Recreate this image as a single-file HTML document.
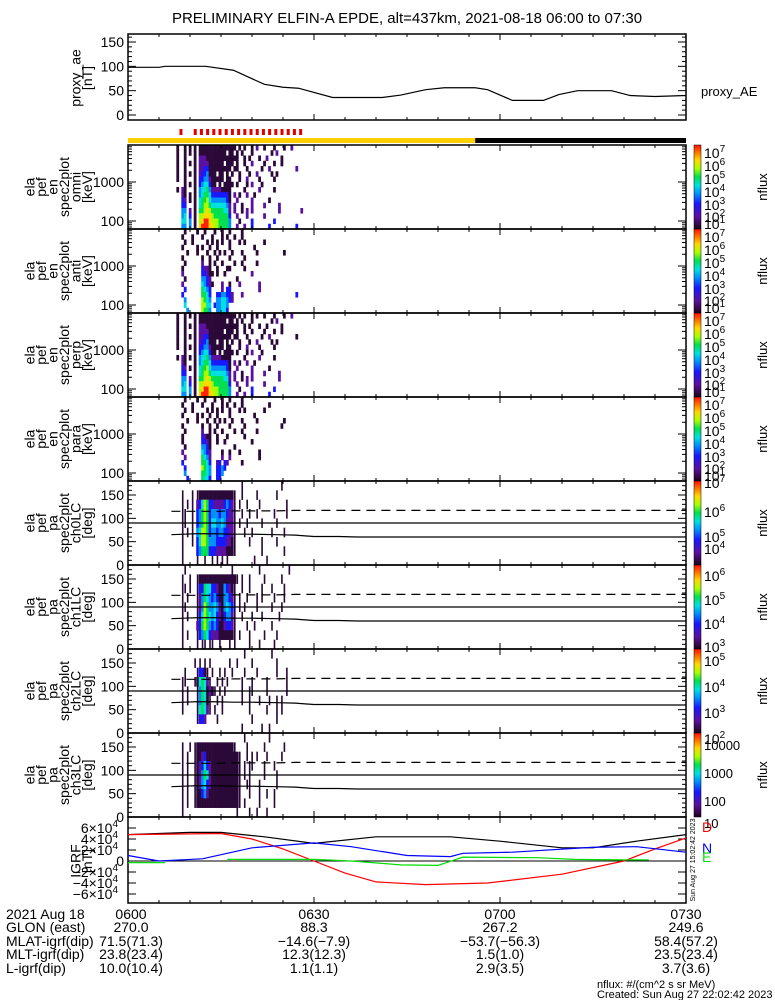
<!DOCTYPE html>
<html><head><meta charset="utf-8">
<style>
html,body{margin:0;padding:0;background:#fff;}
svg{display:block;font-family:"Liberation Sans",sans-serif;}
text{fill:#000;}
</style></head>
<body>
<svg id="chart" width="775" height="1000" viewBox="0 0 775 1000" xmlns="http://www.w3.org/2000/svg">
<text x="407" y="23" font-size="15" text-anchor="middle">PRELIMINARY ELFIN-A EPDE, alt=437km, 2021-08-18 06:00 to 07:30</text>
<g id="g"></g>
</svg>
<script>
// ---- data ----
const aeTimes = [0,5,6,12.5,17,22,25,27.5,33,41,44,48,51,56,58,62,67,69.5,72.5,78,81,85,90];
const aeValues = [98,98,100,100,92,63,57,55,36,36,41,52,56,56,52,30,30,42,50,50,40,38,40];
const aeTicks = [0,50,100,150];

const igrfBlackT = [0,10,15,22,30,40,52,60,70,75,82,90];
const igrfBlackV = [4.8,5.2,5.2,4.4,3.2,4.4,4.4,3.6,2.4,2.4,3.6,4.8];
const igrfRedT = [0,15,20,25,30,35,40,48,58,70,80,85,90];
const igrfRedV = [4.8,5.0,4.0,2.2,0,-2.2,-3.8,-4.3,-4.0,-2.4,0,2.2,4.2];
const igrfBlueT = [0,5,12,20,30,36,45,52,54,62,75,82,90];
const igrfBlueV = [1.0,0,0.4,2.4,3.3,2.6,1.0,0.8,1.4,1.6,2.5,2.6,1.6];
const igrfGreenT = [0,6,6.1,16,30,36,44,50,54,66,72,80,84];
const igrfGreenV = [-0.3,-0.3,null,0.3,0.3,0,-0.7,-0.8,0.7,0.6,0.3,0.2,0.2];
const igrfTicks = [-6,-4,-2,0,2,4,6];

const specT0 = 7.8, specDt = 0.4;
const omniRows = [
"1..1.1.1.111111111111111.1.1..1.2..1...1...1..2.....",
"1..1.1.1.11111111111.11.1.1...1.......1.2...........",
"1..1...1.2221111111111111..1.1...1..2.....1.........",
"1..1.1.1.2222111111.111.1..1..2....1...1..1.........",
"1..1...1.2233111111111.11...1.....1..2..........2...",
"1..1.1.1.2334111.11.1.1..1...1..2.....1.1..........",
"1..1...1.3344211111.11...1..2....1.....1...........",
"...1.1.1.3455311.1.1111.1...1.2...1................",
"1.21...1.4556422221111.....1.....2.....1...........",
"..21.1.1.4566533333331.2.1..2..1...................",
"..32.1.1.5667544444431..2.....2......1.............",
"..33...1.5677655555542.2..1...2....2.....2.........",
"..44.2.1.6678766666552.2..1.2.2..........2........2",
"..45.3.1.7788876666663..2...2......2...............",
"..55.4.1.7899877766664...1....3........3...........",
"..44.4.1.8999887766664..2..2..3......3..........3.."];
const antiRows = [
"...1....1..1...1..1..1....1........................",
"..1...1...1...1...1.1..1..1........................",
"...1..1.....1.1.1.1..1...1.1.......1...............",
"..1.....1.1..1..1....1.........1...................",
"....1...1...1..1.1.1..1...1.....1..........1.......",
"..1.......1..1..1....1.....1.......................",
"...1......2..1.1..1....1..1.....1..................",
"..1.......3221..1...11.....1.......................",
"..2.......33211.1..1..........2....................",
"...1......4432..........1..........................",
"..2.......54321...2..1...2.......2.................",
"...3......6543....2.33...........2.................",
"..3.......6653..3344332...2.....................3..",
"...4......7654..4455432............................",
"...5......7755.344554..............................",
"....4.....7664..44553.............................."];
const perpRows = [
"1..1.1.1.111111111111111.1.1..1.1..1...1...1..2.....",
"1..1...1.11111111111.11.1.1...1.......1.2...........",
"1..1.1.1.2221111111111111..1.1...1..1.....1.........",
"1..1...1.2222111111.111.1..1..1....1...1..1.........",
"1..1.1.1.2233111111111.11...1.....1..2..........1...",
"1..1...1.2334111.11.1.1..1...1..2.....1.1..........",
"1..1.1.1.3344211111.11...1..2....1.....1...........",
"...1...1.3455311.1.1111.1...1.2...1................",
"1.21.1.1.4556422221111.....1.....2.....1...........",
"..21...1.4566533333331.2.1..2..1...................",
"..32.1.1.5667544444431..2.....2......1.............",
"..33...1.5677655555542.2..1...2....2.....2.........",
"..44.2.1.6678766666552.2..1.2.2..........2.........",
"..45.3.1.7788876666663..2...2......2...............",
"..55.4.1.7899877766664...1....3........3...........",
"..44.4.1.8999887766664..2..2..3......3............."];
const paraRows = [
"...1....1..1...1..1..1....1........................",
"..1...1...1...1...1.1..1..1..........1.............",
"...1..1.....1.1.1.1..1...1.1.......1...............",
"..1.....1.1..1..1....1.........1...................",
"....1...1...1..1.1.1..1...1.....1..........1.......",
"..1.......1..1..1....1.....1..............1........",
"...1......2..1.1..1....1..1.....1..................",
"..1.......3211..1...1......1.......................",
"..1.......3321..1..1..........1....................",
"...1......4431.........1...........................",
"..2.......5432....1..1...1.......1.................",
"...2......6542....2..2...........1.................",
"..3.......6653..23.32.....1........................",
"...3......7654..3343...............................",
"...4......6654..334................................",
"....3.....6553..33................................."];
const pa0Rows = [
"..........................1...............1.........",
"..1...1.1111111111111111..1.....1.......1...........",
"..1.1.1.2357633222234321.1..1....1..........1.......",
"..11..1.3467634443443221..1..1..1......1....1.......",
"..11..1.3467635544542221.1..1.....1.....1...........",
"..1.1.1.4577634434433221...1..1.......1....1........",
"..1...1.3577644433332211.....1....1.....1...........",
"..1.....3466633322221111..........1........1........",
"..1.....1..1..1.1.1.1..........1....1..............."];
const pa1Rows = [
"...1..................1..........1...........1......",
"..1..1..11111111111111111.1..1.....1......1.........",
"..11.1..1336553321143211..1..1....1...1....1........",
"..1.1...1246543431144321.1..1...1.1....1...1........",
"..11....1247644542145431.1.1....1.....1...1.........",
"..1.1...1357654532134421..1...1...1......1..........",
"..1.....2367643431123321....1..1......1.............",
"..1.1...1346532221111111.1...1.....1....1...........",
"..1.....1.11.11..1...1.1.....1...1.....1............"];
const pa2Rows = [
"...........................1..........1.............",
".......1.1.1.1.......1..1.....1.........1...........",
"...1....13311.1..1.1..1....1....1.......1...1.......",
"..11...1156521..1.1.1.....1...1.....1.......1.......",
"..1.1...14651211.1.1......1..11.....1.......1.......",
"..1.1...146511..1.1.......1..1...1...1..1.1.........",
"..1.....156521.1..1..........1......1...1.1.........",
"........1332....1.............1.........1...........",
"..........................1.......1..1..............."];
const pa3Rows = [
"...........................1.........1..............",
"..1..1.11111111111111111....1......1.......1........",
"..1.1..1112311111111111111..1.1.1...1.....1.........",
"..1.1..1123532111111111111.1.11....1...1............",
"..1.1..1124652111111111111.1.1.....1....1...........",
"..1.1..1124532111111111111..11...1......1...........",
"..1.1..1113421111111111111...1...1..1..1............",
"..1.1..1111111111111111111.1.....1.....1............",
"..1.....................1....1..1...1..............."];
const lossConeT = [7,9,11,14,17,20,24,27,28,30,33,34,37,40,45,52,60,70,80,90];
const lossConeV = [65,66,67,67,66,66,65,64,63,61,61,61,60,60,60,60,60,60,60,60];
const antiConeV = [115,115,115,115,116,116,116,117,117,117,117,117,117,117,117,117,117,117,117,117];
const redMarkT = [8.3,10.6,11.6,12.6,13.6,14.6,15.6,16.6,17.6,18.6,19.6,20.6,21.6,22.6,23.6,24.6,25.6,26.6,27.6];
const timeLabels = ["0600","0630","0700","0730"];
const glon = ["270.0","88.3","267.2","249.6"];
const mlat = ["71.5(71.3)","-14.6(-7.9)","-53.7(-56.3)","58.4(57.2)"];
const mlt = ["23.8(23.4)","12.3(12.3)","1.5(1.0)","23.5(23.4)"];
const lval = ["10.0(10.4)","1.1(1.1)","2.9(3.5)","3.7(3.6)"];

// ---- helpers ----
const NS="http://www.w3.org/2000/svg";
const G=document.getElementById('g');
const X0=128, X1=686;
function tx(t){return X0+(X1-X0)*t/90;}
function mk(tag,attrs,parent){const e=document.createElementNS(NS,tag);for(const k in attrs)e.setAttribute(k,attrs[k]);(parent||G).appendChild(e);return e;}
function txt(s,x,y,size,anchor,parent){const e=mk('text',{x:x,y:y,'font-size':size,'text-anchor':anchor||'start'},parent);e.textContent=s;return e;}
const cmap=['#ffffff','#2a0838','#5a10a0','#1818ff','#0090ff','#00e0e0','#00e050','#a8ff00','#ffd800','#ff2000'];

function xTicks(top,bot){
  for(let m=0;m<=90;m+=5){
    const big=(m%30===0);const L=big?6:3;
    const x=tx(m);
    mk('line',{x1:x,y1:bot,x2:x,y2:bot-L,stroke:'#000'});
    mk('line',{x1:x,y1:top,x2:x,y2:top+L,stroke:'#000'});
  }
}
function frame(top,bot,name){
  const r=mk('rect',{x:X0,y:top,width:X1-X0,height:bot-top,fill:'none',stroke:'#000','stroke-width':1.5});
  
  
  xTicks(top,bot);
}
function ytitle(lines,cy,name){
  const g=mk('g',{});
  
  
  const n=lines.length;
  lines.forEach((s,i)=>{
    const x=92-(n-1-i)*11.5;
    const t=txt(s,0,0,14,'middle',g);
    t.setAttribute('transform','translate('+x+','+cy+') rotate(-90)');
  });
}
function colorbar(top,bot,labels,name){
  const id='cb'+top;
  const defs=mk('defs',{});
  const lg=mk('linearGradient',{id:id,x1:0,y1:1,x2:0,y2:0},defs);
  [['0','#1a0020'],['0.06','#3a0850'],['0.15','#5a10a0'],['0.3','#1818ff'],['0.42','#0090ff'],['0.52','#00e0e0'],['0.62','#00e050'],['0.72','#a8ff00'],['0.82','#ffd800'],['0.9','#ff8000'],['1','#ff1000']].forEach(s=>mk('stop',{offset:s[0],'stop-color':s[1]},lg));
  const r=mk('rect',{x:694,y:top,width:7,height:bot-top,fill:'url(#'+id+')',stroke:'#000','stroke-width':0.5});
  
  
  labels.forEach(l=>{
    if(l[2]){const t=txt('10',704,l[1],14);const s=mk('tspan',{dy:-6,'font-size':10},t);s.textContent=l[0];}
    else txt(l[0],704,l[1],13);
  });
  const t=txt('nflux',0,0,13,'middle');
  t.setAttribute('transform','translate(767,'+((top+bot)/2)+') rotate(-90)');
}
function spec(top,rows,name){
  const h=84, nr=rows.length, rh=h/nr, cw=tx(specDt)-tx(0);
  const g=mk('g',{});
  
  
  rows.forEach((row,r)=>{
    for(let c=0;c<row.length;c++){
      const ch=row[c]; if(ch==='.')continue;
      mk('rect',{x:tx(specT0+c*specDt),y:top+r*rh,width:cw+0.3,height:rh+0.3,fill:cmap[+ch]},g);
    }
  });
}
function paSpec(top,rows,name){
  const h=84, nr=rows.length, rh=h/nr, cw=tx(specDt)-tx(0);
  const g=mk('g',{});
  
  
  rows.forEach((row,r)=>{
    for(let c=0;c<row.length;c++){
      const ch=row[c]; if(ch==='.')continue;
      const prev=row[c-1]||'.', next=row[c+1]||'.';
      const wide=(+ch>1)||(prev!=='.'&&next!=='.');
      mk('rect',{x:tx(specT0+c*specDt)+(wide?0:0.6),y:top+r*rh,width:wide?cw+0.3:1.6,height:rh+0.3,fill:cmap[+ch]},g);
    }
  });
}
function logAxis(top){
  const yE=e=>top+76-(Math.log10(e)-2)*39;
  for(let d=1;d<=3;d++){for(let k=1;k<=9;k++){const e=k*Math.pow(10,d);const y=yE(e);if(y<top||y>top+84)continue;
    const L=(k===1)?8:4;
    mk('line',{x1:X0,y1:y,x2:X0+L,y2:y,stroke:'#000'});mk('line',{x1:X1,y1:y,x2:X1-L,y2:y,stroke:'#000'});}}
  txt('1000',124,yE(1000)+5,14,'end');txt('100',124,yE(100)+5,14,'end');
}
function paAxis(top){
  const yA=a=>top+84-a*84/180;
  for(let a=0;a<=180;a+=10){const L=(a%50===0)?8:4;const y=yA(a);
    mk('line',{x1:X0,y1:y,x2:X0+L,y2:y,stroke:'#000'});mk('line',{x1:X1,y1:y,x2:X1-L,y2:y,stroke:'#000'});}
  [0,50,100,150].forEach(a=>txt(String(a),124,yA(a)+5,14,'end'));
  mk('line',{x1:X0,y1:yA(90),x2:X1,y2:yA(90),stroke:'#000','stroke-width':1.2});
  let d1='',d2='';
  lossConeT.forEach((t,i)=>{d1+=(i?'L':'M')+tx(t)+','+yA(lossConeV[i]);d2+=(i?'L':'M')+tx(t)+','+yA(antiConeV[i]);});
  const p1=mk('path',{d:d1,fill:'none',stroke:'#000','stroke-width':1.2});
  
  
  const p2=mk('path',{d:d2,fill:'none',stroke:'#000','stroke-width':1.2,'stroke-dasharray':'9,6'});
  
  
}

// ---- proxy AE panel ----
(function(){
  const top=34,bot=120; const yv=v=>115-v*0.4867;
  frame(top,bot,'proxy-ae-panel');
  aeTicks.forEach(v=>txt(String(v),124,yv(v)+5,14,'end'));
  for(let v=0;v<=160;v+=10){const L=(v%50===0)?8:4;const y=yv(v);if(y<top)continue;
    mk('line',{x1:X0,y1:y,x2:X0+L,y2:y,stroke:'#000'});mk('line',{x1:X1,y1:y,x2:X1-L,y2:y,stroke:'#000'});}
  let d='';aeTimes.forEach((t,i)=>{d+=(i?'L':'M')+tx(t)+','+yv(aeValues[i]);});
  const p=mk('path',{d:d,fill:'none',stroke:'#000','stroke-width':1.2});
  
  
  ytitle(['proxy_ae','[nT]'],78,'proxy-ae-axis-title');
  txt('proxy_AE',701,96,13);
})();

// ---- state bar ----
(function(){
  const y=mk('rect',{x:X0,y:138,width:tx(56)-X0,height:5,fill:'#ffd000'});
  
  
  const b=mk('rect',{x:tx(56),y:138,width:X1-tx(56),height:5,fill:'#000'});
  
  
  redMarkT.forEach(t=>{
    const r=mk('rect',{x:tx(t),y:129,width:3,height:6,fill:'#e00000'});
    
    
  });
})();

// ---- energy spectrograms ----
const specPanels=[[145,omniRows,'omni'],[229,antiRows,'anti'],[313,perpRows,'perp'],[397,paraRows,'para']];
specPanels.forEach(p=>{
  spec(p[0],p[1],'spectrogram-'+p[2]);
  frame(p[0],p[0]+84,'panel-'+p[2]);
  logAxis(p[0]);
  ytitle(['ela','pef','en','spec2plot',p[2],'[keV]'],p[0]+42,'y-axis-title-'+p[2]);
  const t=p[0];
  colorbar(t,t+84,[['7',t+13,1],['6',t+26,1],['5',t+39,1],['4',t+52,1],['3',t+65,1],['2',t+77,1],['1',t+84,1]],'colorbar-'+p[2]);
});

// ---- pitch angle spectrograms ----
const paPanels=[[481,pa0Rows,'ch0LC',[['7',488,1],['6',517,1],['5',542,1],['4',554,1]]],
 [565,pa1Rows,'ch1LC',[['6',581,1],['5',605,1],['4',629,1],['3',652,1]]],
 [649,pa2Rows,'ch2LC',[['5',666,1],['4',692,1],['3',718,1],['2',744,1]]],
 [733,pa3Rows,'ch3LC',[['10000',750,0],['1000',778,0],['100',806,0],['10',828,0]]]];
paPanels.forEach(p=>{
  paSpec(p[0],p[1],'pa-spectrogram-'+p[2]);
  frame(p[0],p[0]+84,'panel-'+p[2]);
  paAxis(p[0]);
  ytitle(['ela','pef','pa','spec2plot',p[2],'[deg]'],p[0]+42,'y-axis-title-'+p[2]);
  colorbar(p[0],p[0]+84,p[3],'colorbar-'+p[2]);
});

// ---- IGRF panel ----
(function(){
  const top=817,bot=903; const yv=v=>861-v*5.5;
  frame(top,bot,'igrf-panel');
  mk('line',{x1:X0,y1:yv(0),x2:X1,y2:yv(0),stroke:'#000'});
  igrfTicks.forEach(v=>{
    const y=yv(v);
    mk('line',{x1:X0,y1:y,x2:X0+8,y2:y,stroke:'#000'});mk('line',{x1:X1,y1:y,x2:X1-8,y2:y,stroke:'#000'});
    if(v===0){txt('0',124,y+5,14,'end');return;}
    const t=txt((v<0?'−':'')+Math.abs(v)+'×10',118,y+5,14,'end');
    const s=mk('tspan',{dy:-6,'font-size':10},t);s.textContent='4';
  });
  function line(T,V,col,name){
    let d='',pen=false;
    T.forEach((t,i)=>{if(V[i]===null){pen=false;return;}d+=(pen?'L':'M')+tx(t)+','+yv(V[i]);pen=true;});
    const p=mk('path',{d:d,fill:'none',stroke:col,'stroke-width':1.2});
    
    
  }
  line(igrfBlackT,igrfBlackV,'#000','igrf-total-line');
  line(igrfRedT,igrfRedV,'#ff0000','igrf-d-line');
  line(igrfBlueT,igrfBlueV,'#0000ff','igrf-n-line');
  line(igrfGreenT,igrfGreenV,'#00dd00','igrf-e-line');
  ytitle(['IGRF','[nT]'],861,'igrf-axis-title');
  const d=txt('D',702,832,14);d.style.fill='#ff0000';
  const n=txt('N',702,853,14);n.style.fill='#0000ff';
  const e=txt('E',702,862,14);e.style.fill='#00dd00';
  const s=txt('Sun Aug 27 15:02:42 2023',0,0,7,'middle');
  s.setAttribute('transform','translate(695,860) rotate(-90)');
})();

// ---- bottom annotation ----
(function(){
  const ys=[919,932,946,959,973];
  const heads=['2021 Aug 18','GLON (east)','MLAT-igrf(dip)','MLT-igrf(dip)','L-igrf(dip)'];
  heads.forEach((h,i)=>txt(h,6,ys[i],14));
  const cols=[timeLabels,glon,mlat,mlt,lval];
  const xs=[tx(0),tx(30),tx(60),tx(90)];
  cols.forEach((arr,i)=>arr.forEach((s,j)=>{
    const x=(j===0)?xs[0]+3:xs[j];
    txt(s.replace(/-/g,'−'),x,ys[i],14,'middle');
  }));
  txt('nflux: #/(cm^2 s sr MeV)',597,988,11);
  txt('Created: Sun Aug 27 22:02:42 2023',597,998,11);
})();
</script>
</body></html>
